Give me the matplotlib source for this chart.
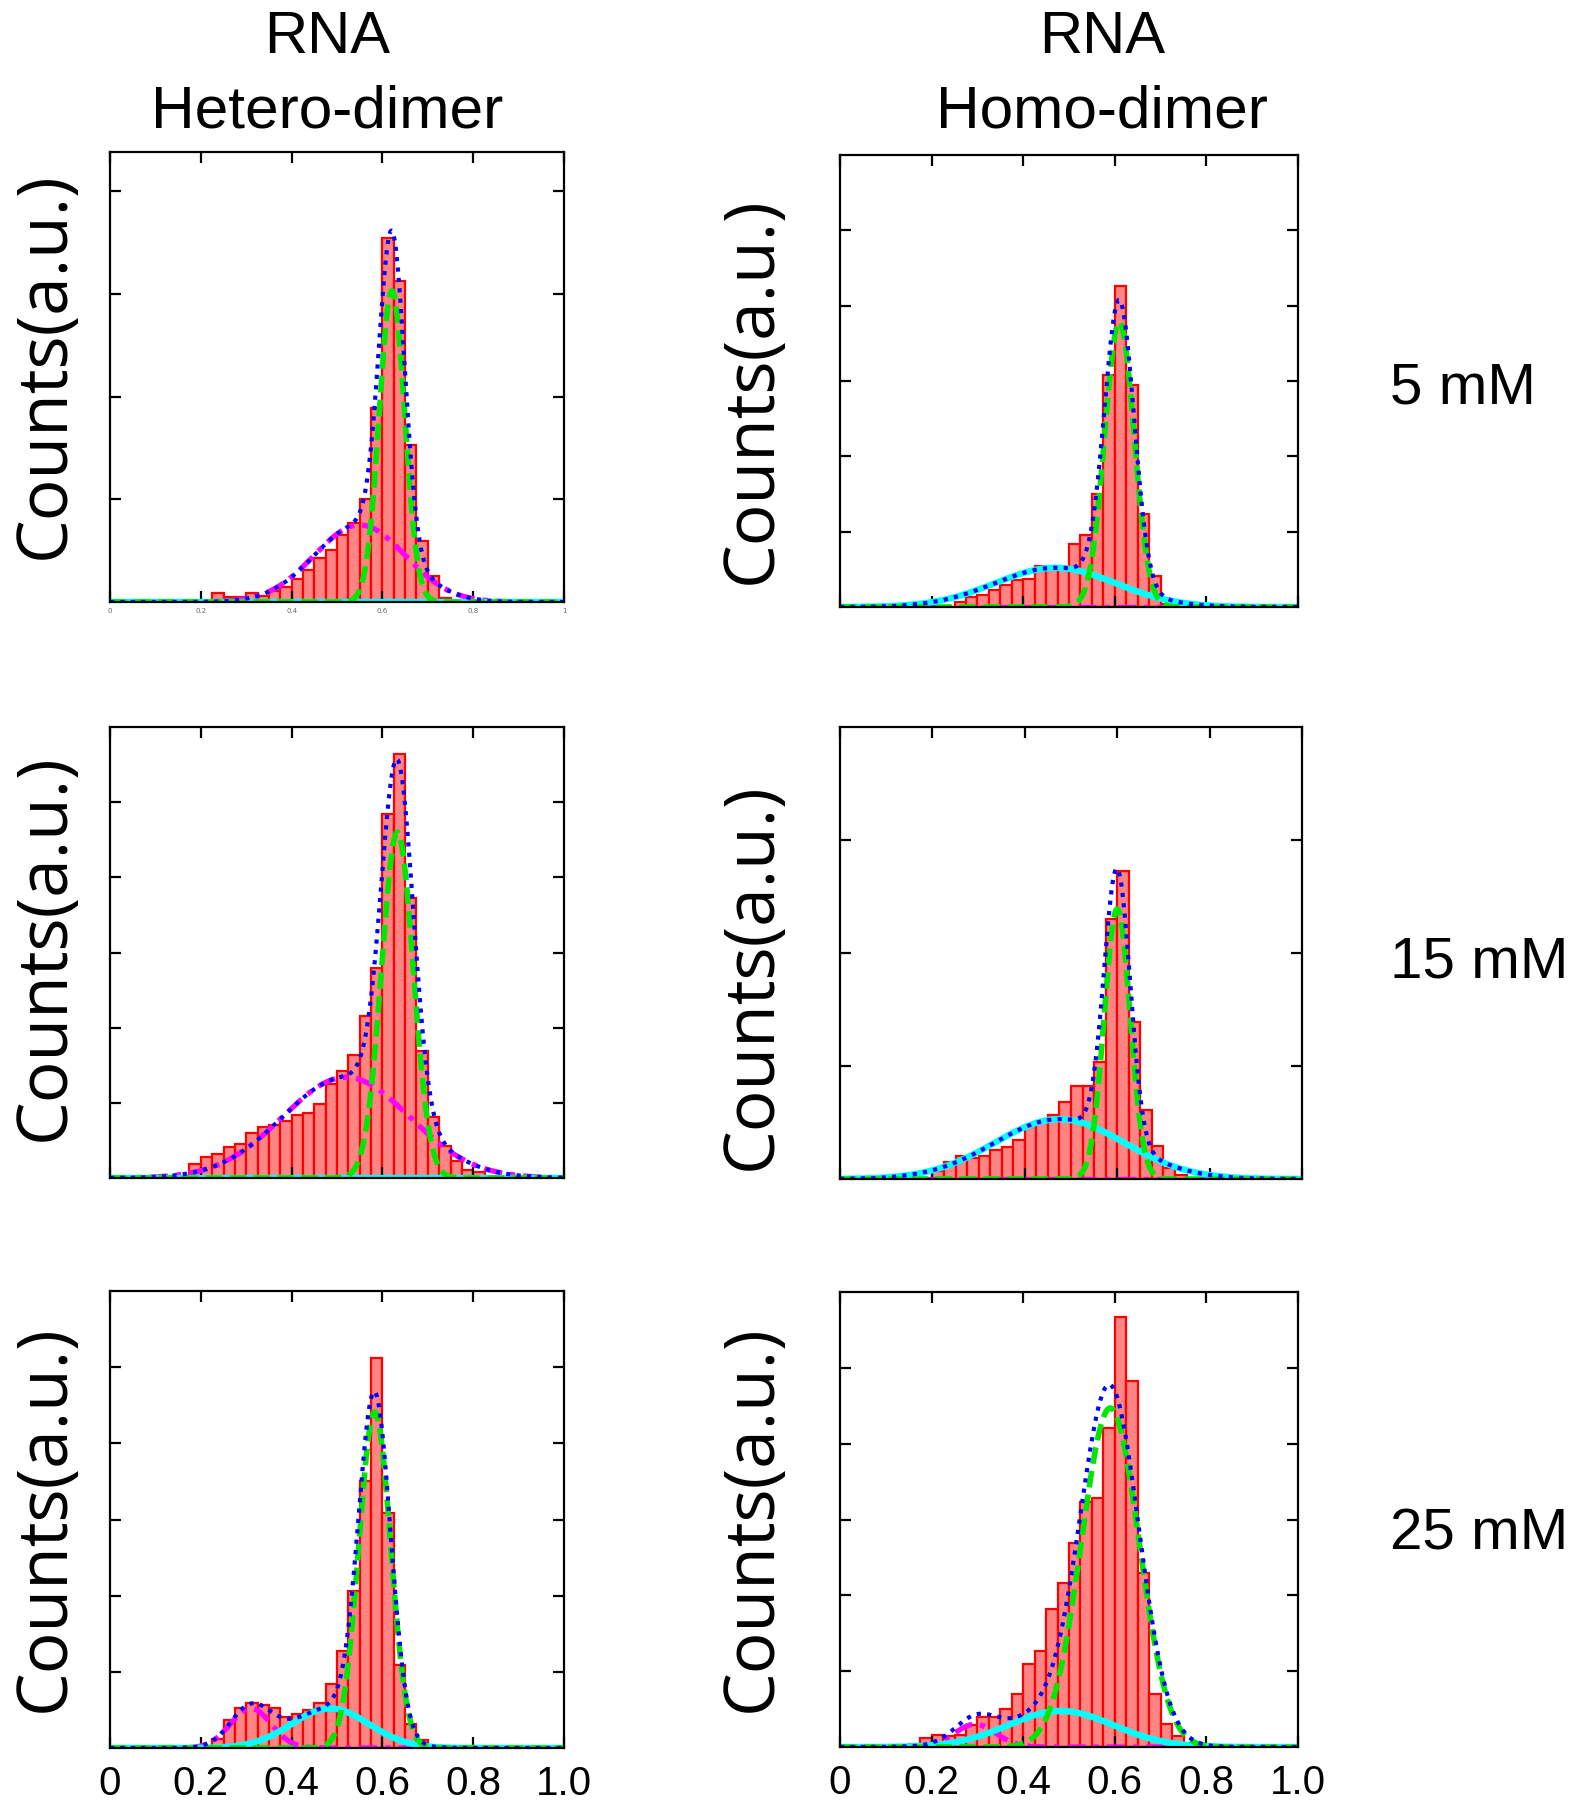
import numpy as np
import matplotlib
matplotlib.use("Agg")
import matplotlib.pyplot as plt

# ---------------- data ----------------
bin_width = 0.025

# histogram bars: left edge of first bin + counts (a.u.)
hetero_5_start = 0.225
hetero_5_counts = [8.7, 4.9, 4.9, 8.7, 6.1, 11, 15, 22, 31, 43, 51, 65, 77, 100,
                   189, 354, 312, 153, 59, 25, 4]
homo_5_start = 0.25
homo_5_counts = [6.6, 13.3, 15.5, 22.1, 28.8, 35.4, 37.6, 54, 53, 53, 84, 95, 150,
                 308, 426, 295, 123, 41, 4]
hetero_15_start = 0.175
hetero_15_counts = [18.6, 27.5, 32, 40.7, 45.6, 59.8, 67.7, 70, 76.2, 84, 86.3, 98.3,
                    124.9, 141.7, 163.8, 215.6, 278.9, 483.6, 563.8, 371.9, 169.6,
                    81.5, 43.0, 23.0, 10.2, 7.5]
homo_15_start = 0.2
homo_15_counts = [7, 14.8, 20.7, 18.6, 20.7, 26, 28, 34.2, 47.2, 51, 57, 67.9, 82.6,
                  82.6, 103.3, 230.4, 272.9, 138.7, 61.4, 29.5, 9.7, 3.8]
hetero_25_start = 0.2
hetero_25_counts = [3, 12, 37, 52, 59, 56, 52, 41, 45, 49.5, 59, 84, 127, 206, 350,
                    512, 308, 109, 32, 10, 2]
homo_25_start = 0.15
homo_25_counts = [4.4, 12.3, 15.4, 14.1, 15.4, 28.6, 39.6, 39.6, 50.6, 70.4, 110,
                  126.8, 181.4, 216.6, 268.5, 323.5, 328, 420.4, 566.5, 482, 228.9,
                  70.4, 30.8, 14.1]

# Gaussian fit components: (center, sigma, amplitude)
hetero_5_green, hetero_5_magenta, hetero_5_cyan = (0.621, 0.028, 303), (0.55, 0.10, 75), (0.5, 0.1, 0)
homo_5_green, homo_5_magenta, homo_5_cyan = (0.61, 0.032, 378), (0.5, 0.1, 0), (0.47, 0.132, 52)
hetero_15_green, hetero_15_magenta, hetero_15_cyan = (0.633, 0.035, 460), (0.52, 0.14, 134), (0.5, 0.1, 0)
homo_15_green, homo_15_magenta, homo_15_cyan = (0.60, 0.028, 239), (0.5, 0.1, 0), (0.475, 0.14, 53)
hetero_25_green, hetero_25_magenta, hetero_25_cyan = (0.583, 0.035, 441), (0.31, 0.045, 52), (0.485, 0.085, 52)
homo_25_green, homo_25_magenta, homo_25_cyan = (0.59, 0.063, 447), (0.295, 0.045, 30), (0.482, 0.115, 47.5)

# axis scales
ylims = [438, 600, 600, 400, 600, 600]
ytick_steps = [100, 100, 100, 100, 100, 100]
xticks = [0, 0.2, 0.4, 0.6, 0.8, 1.0]
xtick_labels = ["0", "0.2", "0.4", "0.6", "0.8", "1.0"]
column_titles = [("RNA", "Hetero-dimer"), ("RNA", "Homo-dimer")]
row_labels = ["5 mM", "15 mM", "25 mM"]
ylabel_text = "Counts(a.u.)"

# ---------------- layout ----------------
W, H = 1575, 1800
fig = plt.figure(figsize=(W / 100, H / 100), dpi=100)

# pixel boxes (left, top, right, bottom)
boxes = [(110, 152, 564, 602), (840, 155, 1298, 607),
         (110, 727, 564, 1178), (840, 727, 1302, 1179),
         (110, 1291, 564, 1748), (840, 1292, 1298, 1747)]

panels = [
    (hetero_5_start, hetero_5_counts, hetero_5_green, hetero_5_magenta, hetero_5_cyan),
    (homo_5_start, homo_5_counts, homo_5_green, homo_5_magenta, homo_5_cyan),
    (hetero_15_start, hetero_15_counts, hetero_15_green, hetero_15_magenta, hetero_15_cyan),
    (homo_15_start, homo_15_counts, homo_15_green, homo_15_magenta, homo_15_cyan),
    (hetero_25_start, hetero_25_counts, hetero_25_green, hetero_25_magenta, hetero_25_cyan),
    (homo_25_start, homo_25_counts, homo_25_green, homo_25_magenta, homo_25_cyan),
]


def gauss(x, p):
    c, s, a = p
    return a * np.exp(-0.5 * ((x - c) / s) ** 2)


xs = np.linspace(0, 1, 801)

for i, (box, (start, counts, pg, pm, pc)) in enumerate(zip(boxes, panels)):
    l, t, r, b = box
    ax = fig.add_axes([l / W, 1 - b / H, (r - l) / W, (b - t) / H])
    lefts = start + bin_width * np.arange(len(counts))
    ax.bar(lefts, counts, width=bin_width, align="edge", color="#FF8585",
           edgecolor="#FF0000", linewidth=1.6, zorder=1)
    g = gauss(xs, pg)
    m = gauss(xs, pm)
    c = gauss(xs, pc)
    ax.plot(xs, m, color="#FF00FF", lw=3.8, ls=(0, (3.5, 1.5, 1, 1.5)), zorder=2)
    ax.plot(xs, c, color="#00FFFF", lw=4.6, ls="-", zorder=3)
    ax.plot(xs, g, color="#00E800", lw=4.0, ls=(0, (3, 1.3)), zorder=4)
    ax.plot(xs, g + m + c, color="#0000FF", lw=3.0, ls=(0, (1, 1.5)), zorder=5)

    ax.set_xlim(0, 1)
    ax.set_ylim(0, ylims[i])
    ax.set_xticks(xticks)
    ax.set_yticks(np.arange(ytick_steps[i], ylims[i] - 1, ytick_steps[i]))
    ax.set_yticklabels([])
    ax.tick_params(axis="both", direction="in", length=8, width=1.6,
                   top=True, right=True, colors="black")
    if i >= 4:
        ax.set_xticklabels(xtick_labels, fontsize=29, family="Liberation Sans")
        ax.tick_params(axis="x", pad=12)
    elif i == 0:
        ax.set_xticklabels(["0", "0.2", "0.4", "0.6", "0.8", "1"], fontsize=5,
                           color="#666666")
        ax.tick_params(axis="x", pad=4)
    else:
        ax.set_xticklabels([])
    for sp in ax.spines.values():
        sp.set_linewidth(1.6)
        sp.set_color("black")
        sp.set_zorder(6)

    # y label
    cx = 46 if i % 2 == 0 else 753
    cy = [365, 390, 947, 976, 1518, 1518][i]
    fig.text(cx / W, 1 - cy / H, ylabel_text, rotation=90, ha="center",
             va="center", fontsize=50, family="Open Sans")

# column titles
for (t1, t2), cx in zip(column_titles, [327, 1102]):
    fig.text(cx / W, 1 - 53 / H, t1, ha="center", va="baseline", fontsize=43,
             family="Liberation Sans")
    fig.text(cx / W, 1 - 127 / H, t2, ha="center", va="baseline", fontsize=43.5,
             family="Liberation Sans")

# row labels
for lab, base in zip(row_labels, [403, 978, 1550]):
    fig.text(1390 / W, 1 - base / H, lab, ha="left", va="baseline", fontsize=42,
             family="Liberation Sans")

fig.savefig("out.png", dpi=100, facecolor="white")
